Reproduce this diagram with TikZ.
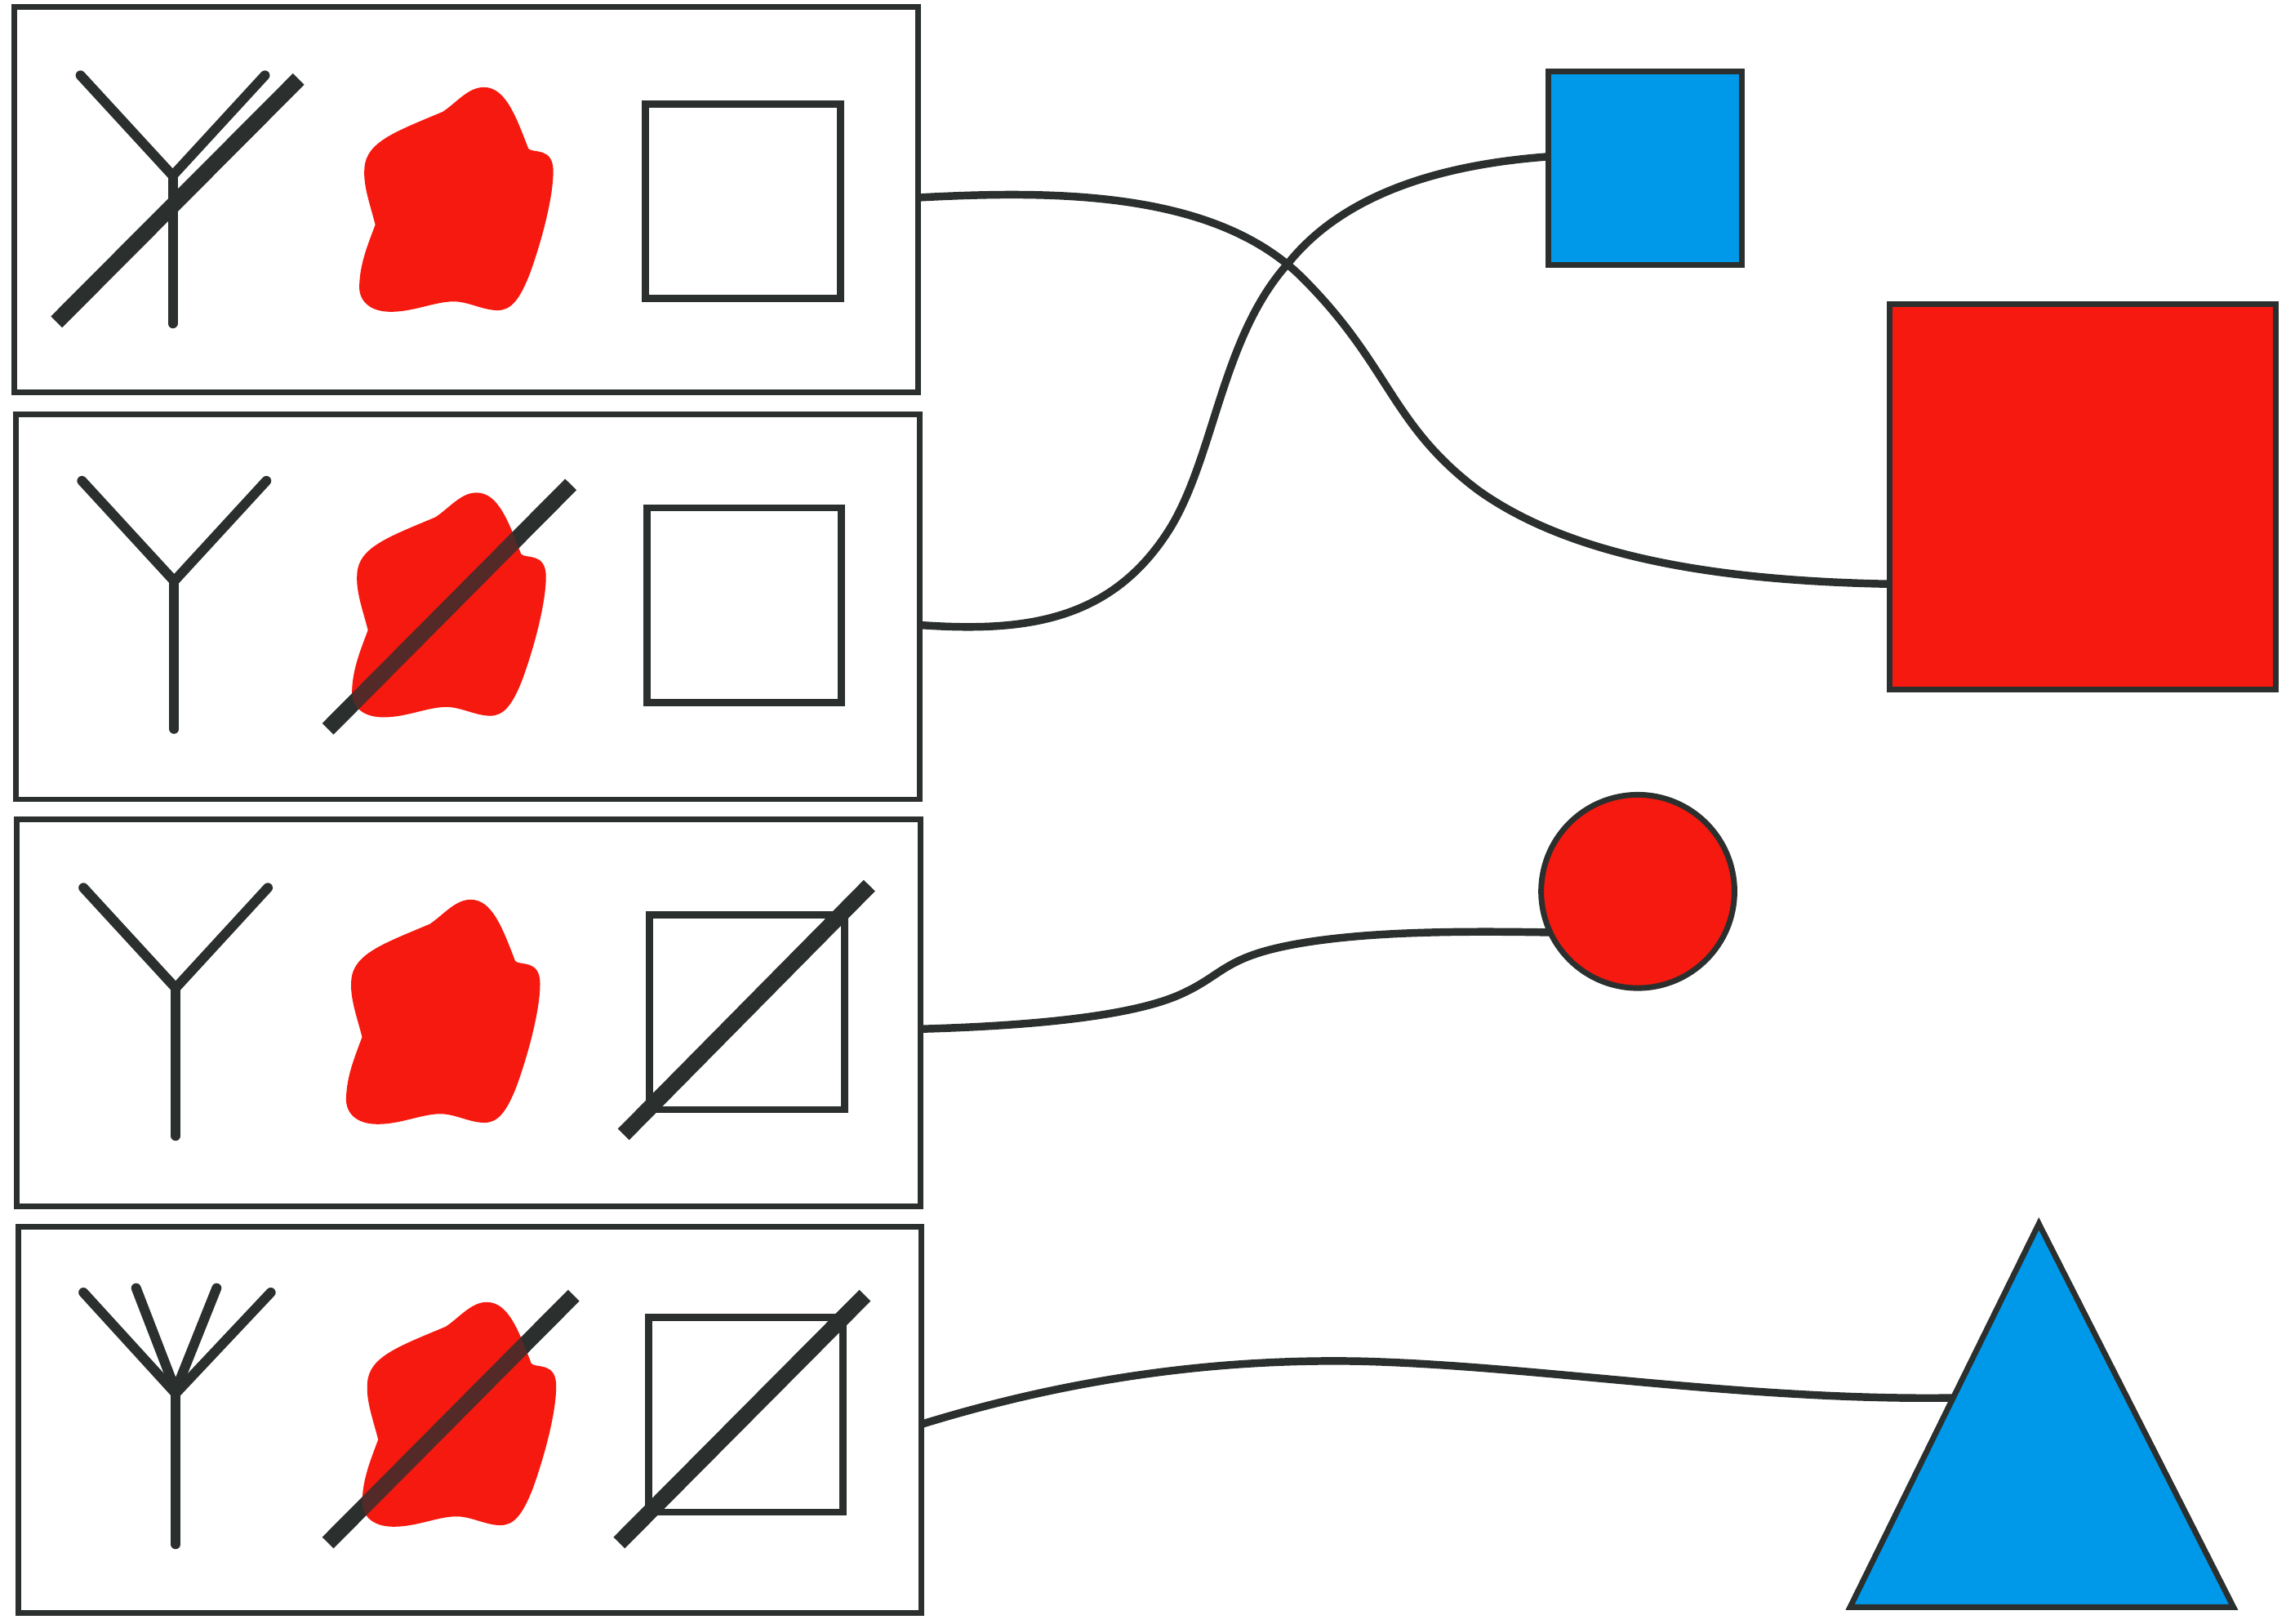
\documentclass[tikz,border=0pt]{standalone}
\usepackage{tikz}
\definecolor{inkdark}{HTML}{2B2F2E}
\definecolor{fillred}{HTML}{F6190F}
\definecolor{fillblue}{HTML}{0099E9}
\tikzstyle{panel} = [rectangle, draw=inkdark, line width=1.1pt, minimum width=6.17cm, minimum height=2.63cm, inner sep=0pt, outer sep=0pt]
\tikzstyle{port} = [rectangle, draw=inkdark, line width=1.4pt, minimum width=1.33cm, minimum height=1.33cm, inner sep=0pt, outer sep=0pt]
\tikzstyle{ant} = [draw=inkdark, line width=1.9pt, line cap=round, line join=miter]
\tikzstyle{slash} = [draw=inkdark, line width=3.1pt]
\tikzstyle{wire} = [draw=inkdark, line width=1.5pt]
\tikzstyle{target} = [draw=inkdark, line width=1.1pt, inner sep=0pt, outer sep=0pt]
\tikzset{
  blob/.pic={
    \fill[fillred, pic actions] (302.6,76.3) .. controls (312,70) and (320,59.6) .. (330.5,59.6)
      .. controls (345,59.6) and (352,78) .. (361,101.5)
      .. controls (364,105) and (378,100) .. (378,117)
      .. controls (378,135) and (370,165) .. (362,187)
      .. controls (355,205) and (349,212) .. (340,212)
      .. controls (330,212) and (320,206) .. (310,206)
      .. controls (297,206) and (283,213) .. (267,213)
      .. controls (252,213) and (245,205) .. (245.5,195)
      .. controls (246,180) and (251,168) .. (256.4,153.5)
      .. controls (253,140) and (248,127) .. (249,115)
      .. controls (250,97) and (270,90) .. (302.6,76.3) -- cycle;
  },
  antenna/.pic={
    \draw[ant] (55,51.5) -- (118,120) -- (181,51.5);
    \draw[ant] (118,120) -- (118,221);
  }
}

\begin{document}
\begin{tikzpicture}[x=0.01cm, y=-0.01cm]
    \useasboundingbox (0,0) rectangle (1568,1109);

    % panels
    \node (box1) [panel] at (318.5,136.5) {};
    \node (box2) [panel] at (319.5,414.5) {};
    \node (box3) [panel, minimum height=2.64cm] at (320,692) {};
    \node (box4) [panel, minimum height=2.64cm] at (321,970) {};

    % antennas
    \pic at (0,0) {antenna};
    \pic at (1,277) {antenna};
    \pic at (2,555) {antenna};
    \draw[ant] (57,883) -- (120,952) -- (185,883);
    \draw[ant] (93,880) -- (120,950) -- (148,880);
    \draw[ant] (120,952) -- (120,1055);

    % blobs
    \pic at (0,0) {blob};
    \pic at (-5,277) {blob};
    \pic at (-9,555) {blob};
    \pic at (2,830) {blob};

    % ports
    \node (port1) [port] at (507.5,137.5) {};
    \node (port2) [port] at (508.5,413.5) {};
    \node (port3) [port] at (510.5,691.5) {};
    \node (port4) [port] at (509.5,966.5) {};

    % crossed out
    \draw[slash] (38.6,220) -- (204,54);
    \draw[slash] (224,498) -- (390,331);
    \draw[slash] (426,775) -- (594,605);
    \draw[slash] (224,1054) -- (392,885);
    \draw[slash] (423,1054) -- (591,885);
    \pic[opacity=.2] at (-5,277) {blob};
    \pic[opacity=.2] at (2,830) {blob};

    % targets
    \node (blue) [target, rectangle, fill=fillblue, minimum width=1.32cm, minimum height=1.32cm] at (1124,115) {};
    \node (red) [target, rectangle, fill=fillred, minimum width=2.64cm, minimum height=2.63cm] at (1423,339.5) {};
    \node (dot) [target, circle, fill=fillred, minimum size=1.32cm] at (1119,609) {};
    \draw[target, fill=fillblue, line join=miter] (1393,836) -- (1526,1098) -- (1264,1098) -- cycle;
    \coordinate (tripoint) at (1334,955);
    \coordinate (dotpoint) at (1059,637);

    % wires
    \draw[wire] (box1.east |- 0,135) .. controls (720,130) and (830,130) .. (890,190)
        .. controls (950,250) and (950,290) .. (1010,335)
        .. controls (1080,385) and (1190,397) .. (red.west |- 0,399);
    \draw[wire] (box2.east |- 0,427) .. controls (700,432) and (760,425) .. (800,360)
        .. controls (830,310) and (835,230) .. (880,180)
        .. controls (920,130) and (990,112) .. (blue.west |- 0,107);
    \draw[wire] (box3.east |- 0,703) .. controls (700,701) and (770,695) .. (805,680)
        .. controls (835,667) and (835,655) .. (880,646)
        .. controls (930,636) and (1000,636) .. (dotpoint);
    \draw[wire] (box4.east |- 0,973) .. controls (730,942) and (830,928) .. (930,930)
        .. controls (1050,933) and (1190,957) .. (tripoint);

\end{tikzpicture}
\end{document}
